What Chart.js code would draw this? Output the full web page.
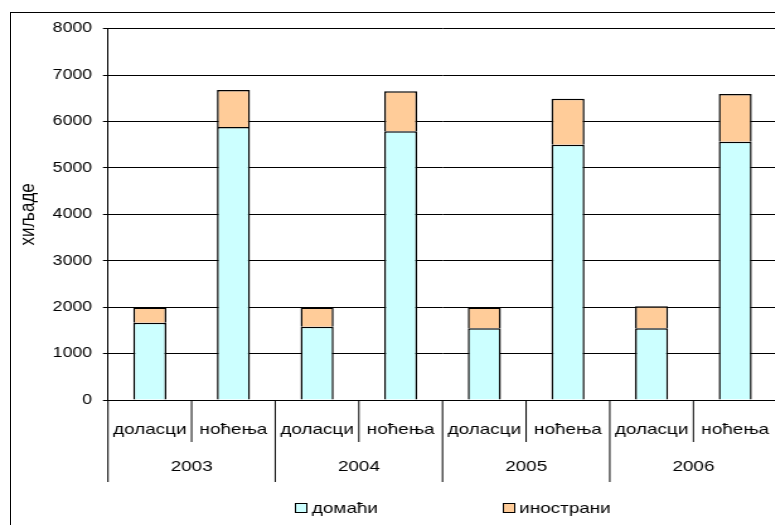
<!DOCTYPE html>
<html>
<head>
<meta charset="utf-8">
<script src="https://cdn.jsdelivr.net/npm/chart.js@4.4.1/dist/chart.umd.min.js"></script>
<style>
  html, body { margin: 0; padding: 0; width: 775px; height: 525px; overflow: hidden; background: #fff; }
  #okvir { position: absolute; left: 10px; top: 12px; width: 900px; height: 700px; border: 1px solid #000; }
  #platno { position: absolute; left: 0; top: 0; transform: scaleX(1.26); transform-origin: 0 0; }
</style>
</head>
<body>
<div id="okvir"></div>
<div id="platno"><canvas id="turisti" width="640" height="525"></canvas></div>
<script>
// vrste i godine (dva nivoa na x osi)
const vrste = ["доласци", "ноћења"];
const godine = ["2003", "2004", "2005", "2006"];

// hiljade, redom: 2003 dol, 2003 noć, 2004 dol, ...
const domaci = [1665, 5880, 1580, 5790, 1545, 5500, 1545, 5565];
const inostrani = [325, 800, 410, 860, 445, 990, 475, 1025];

const y_podeoci = [0, 1000, 2000, 3000, 4000, 5000, 6000, 7000, 8000];

const oznake = [];
godine.forEach(g => vrste.forEach(v => oznake.push(v)));

const FONT = '15px "Liberation Sans", Arial, sans-serif';

Chart.defaults.font.family = '"Liberation Sans", Arial, sans-serif';
Chart.defaults.font.size = 14;
Chart.defaults.color = "#000";

// donja osa u dva reda i legenda
const dodaci = {
  id: "dodaci",
  afterDraw(chart) {
    const ctx = chart.ctx;
    const x = chart.scales.x;
    const dno = chart.chartArea.bottom;
    const pola = (x.getPixelForValue(1) - x.getPixelForValue(0)) / 2;

    ctx.save();
    ctx.strokeStyle = "#000";
    ctx.lineWidth = 1;
    ctx.fillStyle = "#000";
    ctx.font = FONT;
    ctx.textAlign = "center";
    ctx.textBaseline = "middle";

    for (let i = 0; i <= oznake.length; i++) {
      const px = i < oznake.length ? x.getPixelForValue(i) - pola : x.getPixelForValue(i - 1) + pola;
      const duzina = i % 2 === 0 ? 82 : 42;
      ctx.beginPath();
      ctx.moveTo(px, dno);
      ctx.lineTo(px, dno + duzina);
      ctx.stroke();
    }

    oznake.forEach((o, i) => ctx.fillText(o, x.getPixelForValue(i), 430));
    godine.forEach((g, k) => {
      const sredina = (x.getPixelForValue(2 * k) + x.getPixelForValue(2 * k + 1)) / 2;
      ctx.fillText(g, sredina, 467);
    });

    // legenda
    const mesta = [[234, 247.5], [399, 412]];
    ctx.textAlign = "left";
    chart.data.datasets.forEach((ds, i) => {
      const [kx, tx] = mesta[i];
      ctx.fillStyle = ds.backgroundColor;
      ctx.fillRect(kx, 503, 10, 10);
      ctx.strokeRect(kx + 0.5, 503.5, 9, 9);
      ctx.fillStyle = "#000";
      ctx.fillText(ds.label, tx, 508.5);
    });
    ctx.restore();
  }
};

var ctx = document.getElementById("turisti");

var myChart = new Chart(ctx, {
  type: "bar",
  data: {
    labels: oznake,
    datasets: [
      {
        label: "домаћи",
        data: domaci,
        backgroundColor: "#CCFFFF",
        borderColor: "#000",
        borderWidth: 1.5
      },
      {
        label: "инострани",
        data: inostrani,
        backgroundColor: "#FFCC99",
        borderColor: "#000",
        borderWidth: 1.5
      }
    ]
  },
  options: {
    responsive: false,
    animation: false,
    devicePixelRatio: 1,
    categoryPercentage: 1,
    barPercentage: 0.395,
    layout: { padding: { top: 28.6, right: 23.3, left: 0, bottom: 0 } },
    plugins: {
      legend: { display: false },
      tooltip: { enabled: false }
    },
    scales: {
      x: {
        stacked: true,
        ticks: { display: false },
        grid: { display: false },
        border: { display: true, color: "#000", width: 1 },
        afterFit: s => { s.height = 125; }
      },
      y: {
        stacked: true,
        min: 0,
        max: 8000,
        afterBuildTicks: s => { s.ticks = y_podeoci.map(v => ({ value: v })); },
        ticks: { padding: 8.7, color: "#000", callback: v => String(v) },
        grid: { color: "#000", lineWidth: 1, tickLength: 4 },
        border: { display: true, color: "#000", width: 1 },
        title: {
          display: true,
          text: "хиљаде",
          color: "#000",
          font: { size: 17, lineHeight: 1 },
          padding: { top: 13.5, bottom: 0 }
        },
        afterFit: s => { s.width = 85.7; }
      }
    }
  },
  plugins: [dodaci]
});
</script>
</body>
</html>
